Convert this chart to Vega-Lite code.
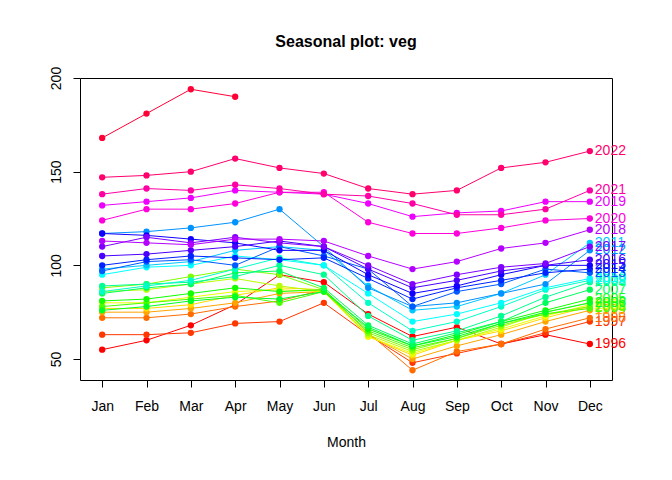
{
  "$schema": "https://vega.github.io/schema/vega-lite/v6.json",
  "width": 532,
  "height": 302,
  "autosize": {"type": "none"},
  "padding": {"left": 80, "top": 78, "right": 60, "bottom": 100},
  "background": "white",
  "title": {"text": "Seasonal plot: veg", "font": "Liberation Sans", "fontSize": 16, "fontWeight": "bold", "offset": 16, "color": "black"},
  "data": {"values": [
    {"year": "1996", "Jan": 55, "Feb": 60, "Mar": 68, "Apr": 79, "May": 95, "Jun": 91, "Jul": 74, "Aug": 62, "Sep": 67, "Oct": 58, "Nov": 63, "Dec": 58},
    {"year": "1997", "Jan": 63, "Feb": 63, "Mar": 64, "Apr": 69, "May": 70, "Jun": 80, "Jul": 63, "Aug": 48, "Sep": 53, "Oct": 58, "Nov": 64, "Dec": 70},
    {"year": "1998", "Jan": 72, "Feb": 72, "Mar": 74, "Apr": 78, "May": 81, "Jun": 87, "Jul": 64, "Aug": 44, "Sep": 54, "Oct": 58, "Nov": 66, "Dec": 72},
    {"year": "1999", "Jan": 75, "Feb": 75, "Mar": 77, "Apr": 80, "May": 85, "Jun": 86, "Jul": 63, "Aug": 50, "Sep": 57, "Oct": 63, "Nov": 70, "Dec": 76},
    {"year": "2000", "Jan": 77, "Feb": 77, "Mar": 79, "Apr": 84, "May": 88, "Jun": 87, "Jul": 62, "Aug": 52, "Sep": 60, "Oct": 65, "Nov": 72, "Dec": 78},
    {"year": "2001", "Jan": 80, "Feb": 80, "Mar": 83, "Apr": 86, "May": 87, "Jun": 86, "Jul": 62, "Aug": 53, "Sep": 60, "Oct": 66, "Nov": 73, "Dec": 79},
    {"year": "2002", "Jan": 86, "Feb": 87, "Mar": 90, "Apr": 93, "May": 89, "Jun": 86, "Jul": 63, "Aug": 54, "Sep": 60, "Oct": 67, "Nov": 75, "Dec": 80},
    {"year": "2003", "Jan": 88, "Feb": 90, "Mar": 94, "Apr": 98, "May": 95, "Jun": 87, "Jul": 64, "Aug": 55, "Sep": 61, "Oct": 68, "Nov": 74, "Dec": 78},
    {"year": "2004", "Jan": 78, "Feb": 80, "Mar": 82, "Apr": 84, "May": 80, "Jun": 86, "Jul": 65, "Aug": 56, "Sep": 61, "Oct": 69, "Nov": 74, "Dec": 77},
    {"year": "2005", "Jan": 81, "Feb": 82, "Mar": 85, "Apr": 88, "May": 86, "Jun": 87, "Jul": 66, "Aug": 57, "Sep": 63, "Oct": 70, "Nov": 76, "Dec": 82},
    {"year": "2006", "Jan": 76, "Feb": 78, "Mar": 81, "Apr": 83, "May": 82, "Jun": 86, "Jul": 67, "Aug": 57, "Sep": 62, "Oct": 69, "Nov": 75, "Dec": 80},
    {"year": "2007", "Jan": 85, "Feb": 88, "Mar": 90, "Apr": 96, "May": 97, "Jun": 88, "Jul": 68, "Aug": 58, "Sep": 64, "Oct": 70, "Nov": 80, "Dec": 87},
    {"year": "2008", "Jan": 89, "Feb": 90, "Mar": 91, "Apr": 94, "May": 100, "Jun": 95, "Jul": 73, "Aug": 60, "Sep": 65, "Oct": 73, "Nov": 83, "Dec": 91},
    {"year": "2009", "Jan": 86, "Feb": 89, "Mar": 92, "Apr": 98, "May": 104, "Jun": 100, "Jul": 80, "Aug": 65, "Sep": 70, "Oct": 78, "Nov": 87, "Dec": 92},
    {"year": "2010", "Jan": 95, "Feb": 99, "Mar": 100, "Apr": 105, "May": 103, "Jun": 100, "Jul": 85, "Aug": 70, "Sep": 74, "Oct": 80, "Nov": 88, "Dec": 93},
    {"year": "2011", "Jan": 98, "Feb": 100, "Mar": 102, "Apr": 108, "May": 110, "Jun": 108, "Jul": 89, "Aug": 76, "Sep": 78, "Oct": 85, "Nov": 95, "Dec": 112},
    {"year": "2012", "Jan": 117, "Feb": 118, "Mar": 120, "Apr": 123, "May": 130, "Jun": 110, "Jul": 88, "Aug": 78, "Sep": 80, "Oct": 85, "Nov": 90, "Dec": 108},
    {"year": "2013", "Jan": 97, "Feb": 102, "Mar": 103, "Apr": 100, "May": 110, "Jun": 105, "Jul": 98, "Aug": 78, "Sep": 86, "Oct": 90, "Nov": 98, "Dec": 96},
    {"year": "2014", "Jan": 100, "Feb": 103, "Mar": 105, "Apr": 104, "May": 103, "Jun": 104, "Jul": 93, "Aug": 82, "Sep": 88, "Oct": 92, "Nov": 96, "Dec": 98},
    {"year": "2015", "Jan": 117, "Feb": 116, "Mar": 114, "Apr": 112, "May": 108, "Jun": 108, "Jul": 95, "Aug": 85, "Sep": 89, "Oct": 95, "Nov": 100, "Dec": 100},
    {"year": "2016", "Jan": 105, "Feb": 106, "Mar": 108, "Apr": 110, "May": 113, "Jun": 110, "Jul": 98, "Aug": 88, "Sep": 92, "Oct": 97, "Nov": 100, "Dec": 103},
    {"year": "2017", "Jan": 110, "Feb": 115, "Mar": 112, "Apr": 115, "May": 112, "Jun": 110, "Jul": 100, "Aug": 90, "Sep": 95, "Oct": 99, "Nov": 101, "Dec": 110},
    {"year": "2018", "Jan": 113, "Feb": 112, "Mar": 111, "Apr": 114, "May": 114, "Jun": 113, "Jul": 105, "Aug": 98, "Sep": 102, "Oct": 109, "Nov": 112, "Dec": 119},
    {"year": "2019", "Jan": 132, "Feb": 134, "Mar": 136, "Apr": 140, "May": 139, "Jun": 138, "Jul": 133, "Aug": 126, "Sep": 128, "Oct": 129, "Nov": 134, "Dec": 134},
    {"year": "2020", "Jan": 124, "Feb": 130, "Mar": 130, "Apr": 133, "May": 139, "Jun": 139, "Jul": 123, "Aug": 117, "Sep": 117, "Oct": 120, "Nov": 124, "Dec": 125},
    {"year": "2021", "Jan": 138, "Feb": 141, "Mar": 140, "Apr": 143, "May": 141, "Jun": 138, "Jul": 137, "Aug": 133, "Sep": 127, "Oct": 127, "Nov": 130, "Dec": 140},
    {"year": "2022", "Jan": 147, "Feb": 148, "Mar": 150, "Apr": 157, "May": 152, "Jun": 149, "Jul": 141, "Aug": 138, "Sep": 140, "Oct": 152, "Nov": 155, "Dec": 161},
    {"year": "2023", "Jan": 168, "Feb": 181, "Mar": 194, "Apr": 190}
  ]},
  "transform": [
    {"fold": ["Jan", "Feb", "Mar", "Apr", "May", "Jun", "Jul", "Aug", "Sep", "Oct", "Nov", "Dec"], "as": ["month", "value"]},
    {"filter": "isValid(datum.value)"}
  ],
  "encoding": {
    "x": {"field": "month", "type": "ordinal",
      "sort": ["Jan", "Feb", "Mar", "Apr", "May", "Jun", "Jul", "Aug", "Sep", "Oct", "Nov", "Dec"],
      "scale": {"type": "point", "padding": 0.5}, "title": "Month",
      "axis": {"labelAngle": 0, "domain": false, "tickColor": "black", "tickSize": 7, "labelPadding": 12, "titlePadding": 22}},
    "y": {"field": "value", "type": "quantitative", "title": null,
      "scale": {"domain": [38.8, 200], "nice": false, "zero": false},
      "axis": {"values": [50, 100, 150, 200], "grid": false, "domain": false, "tickColor": "black", "tickSize": 7, "labelAngle": -90, "labelAlign": "center", "labelBaseline": "bottom", "labelPadding": 10}},
    "color": {"field": "year", "type": "nominal", "legend": null,
      "scale": {"domain": ["1996","1997","1998","1999","2000","2001","2002","2003","2004","2005","2006","2007","2008","2009","2010","2011","2012","2013","2014","2015","2016","2017","2018","2019","2020","2021","2022","2023"],
        "range": ["#FF0000","#FF3700","#FF6D00","#FFA400","#FFDB00","#EDFF00","#B6FF00","#80FF00","#49FF00","#12FF00","#00FF24","#00FF5B","#00FF92","#00FFC8","#00FFFF","#00C8FF","#0092FF","#005BFF","#0024FF","#1200FF","#4900FF","#8000FF","#B600FF","#ED00FF","#FF00DB","#FF00A4","#FF006D","#FF0037"]}}
  },
  "layer": [
    {"mark": {"type": "line", "strokeWidth": 1}, "encoding": {"detail": {"field": "year"}}},
    {"mark": {"type": "point", "filled": true, "size": 40, "opacity": 1}},
    {"transform": [{"filter": "datum.month == 'Dec'"}],
      "mark": {"type": "text", "align": "left", "dx": 5, "fontSize": 14, "font": "Liberation Sans"},
      "encoding": {"text": {"field": "year"}}}
  ],
  "config": {
    "view": {"stroke": "black", "strokeWidth": 1},
    "font": "Liberation Sans",
    "axis": {"labelFontSize": 14, "titleFontSize": 14, "labelColor": "black", "titleColor": "black", "titleFontWeight": "normal"}
  }
}
